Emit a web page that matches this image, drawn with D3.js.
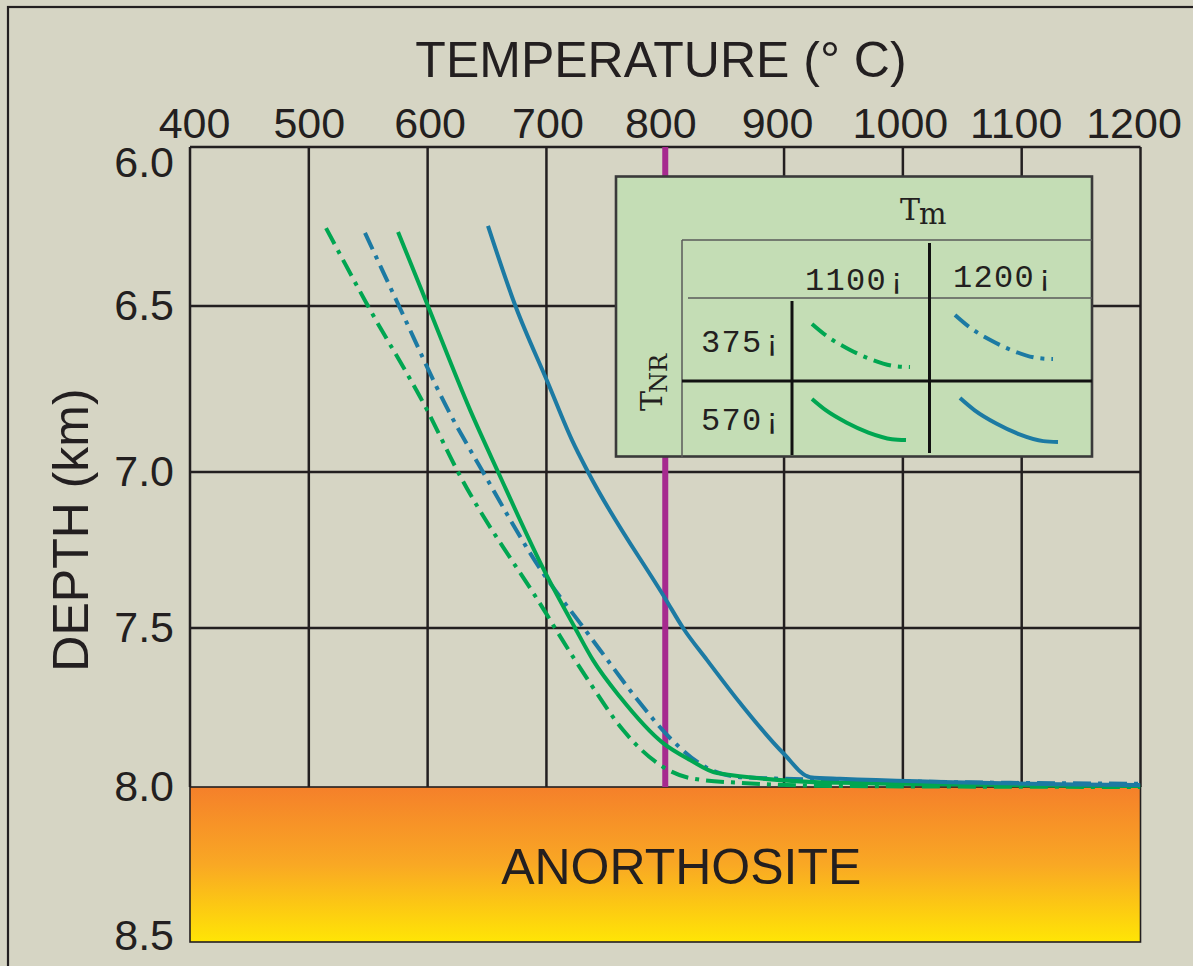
<!DOCTYPE html>
<html><head><meta charset="utf-8">
<script src="https://cdn.jsdelivr.net/npm/d3@7"></script>
<style>html,body{margin:0;padding:0;background:#D6D5C4;} svg{display:block}</style>
</head><body>
<svg id="chart" width="1193" height="966"></svg>
<script>
// ---- data ----
const tempTicks = [400, 500, 600, 700, 800, 900, 1000, 1100, 1200];
const depthTicks = [6.0, 6.5, 7.0, 7.5, 8.0, 8.5];
const markerTemp = 800;
// [temperature °C, depth km]
const tm1200_tnr570 = [[650.8,6.248],[673.6,6.497],[701.3,6.732],[721.5,6.904],[735,7.0],[800.7,7.41],[815,7.5],[835.2,7.601],[863,7.736],[899.2,7.893],[921.9,7.969],[947,7.974],[1199.7,7.994]];
const tm1200_tnr375 = [[547.3,6.27],[575.9,6.5],[617.2,6.813],[646.6,7.0],[697.1,7.324],[730.8,7.497],[745.1,7.569],[778.8,7.736],[804,7.846],[835.2,7.94],[863,7.969],[947.1,7.978],[1199.7,7.99]];
const tm1100_tnr570 = [[575.1,6.267],[600.3,6.5],[635.7,6.813],[659.3,7.0],[698.8,7.321],[724.1,7.5],[739.2,7.601],[762,7.717],[798.2,7.862],[820.9,7.915],[843.6,7.956],[947.1,7.987],[1199.7,7.997]];
const tm1100_tnr375 = [[514.5,6.255],[549.8,6.5],[599.5,6.813],[625.6,7.0],[700.5,7.458],[707.2,7.5],[722.4,7.591],[736.7,7.673],[764.5,7.821],[798.2,7.937],[820.9,7.972],[863,7.987],[947.1,7.997],[1199.7,8.0]];
const legendShape = [[0,0],[0.15,0.28],[0.37,0.58],[0.6,0.82],[0.85,0.98],[1,1]];
const tmLabels = ["1100¡", "1200¡"];
const tnrLabels = ["375¡", "570¡"];

// ---- styles / layout ----
const GREEN = "#00A651", BLUE = "#1C7AA3", DARK = "#231F20";
const DASHDOT = "18 7 4 7";
const tickLabelShift = [4, 0, 2, 1, -5, -7, -3, -6, -7];
const seriesList = [
  {data: tm1100_tnr375, color: GREEN, dash: DASHDOT, box: [812, 324, 910, 367]},
  {data: tm1200_tnr375, color: BLUE,  dash: DASHDOT, box: [955, 315, 1053, 359]},
  {data: tm1100_tnr570, color: GREEN, dash: null,    box: [812, 399, 906, 440]},
  {data: tm1200_tnr570, color: BLUE,  dash: null,    box: [960, 398, 1058, 442]}
];

const svg = d3.select("#chart");
const sans = "'Liberation Sans', Arial, Helvetica, sans-serif";

// outer frame
svg.append("rect").attr("x", 8).attr("y", 7).attr("width", 1220).attr("height", 1000)
  .attr("fill", "#D6D5C4").attr("stroke", DARK).attr("stroke-width", 2.2);

const x = d3.scaleLinear().domain([400, 1200]).range([190, 1140.5]);
const y = d3.scaleLinear().domain(depthTicks).range([147, 306, 472, 628, 787, 942]);

// gradient
const defs = svg.append("defs");
const grad = defs.append("linearGradient").attr("id", "anor").attr("x1", 0).attr("y1", 0).attr("x2", 0).attr("y2", 1);
grad.append("stop").attr("offset", "0%").attr("stop-color", "#F5802A");
grad.append("stop").attr("offset", "50%").attr("stop-color", "#F9A824");
grad.append("stop").attr("offset", "100%").attr("stop-color", "#FFE505");

// grid
const grid = svg.append("g");
grid.selectAll("line.v").data(tempTicks).join("line").attr("class", "v")
  .attr("x1", d => x(d)).attr("x2", d => x(d)).attr("y1", y(6)).attr("y2", y(8))
  .attr("stroke", DARK).attr("stroke-width", 2.5);
grid.selectAll("line.h").data(depthTicks.filter(d => d < 8)).join("line").attr("class", "h")
  .attr("x1", x(400)).attr("x2", x(1200)).attr("y1", d => y(d)).attr("y2", d => y(d))
  .attr("stroke", DARK).attr("stroke-width", 2.5);

// anorthosite block
svg.append("rect").attr("x", x(400)).attr("y", y(8)).attr("width", x(1200) - x(400)).attr("height", y(8.5) - y(8))
  .attr("fill", "url(#anor)").attr("stroke", DARK).attr("stroke-width", 1.6);
svg.append("text").attr("x", (x(400) + x(1200)) / 2 + 16).attr("y", 884).attr("text-anchor", "middle")
  .attr("font-family", sans).attr("font-size", 50).attr("fill", DARK).text("ANORTHOSITE");

// marker line
svg.append("line").attr("x1", x(markerTemp)).attr("x2", x(markerTemp)).attr("y1", y(6)).attr("y2", y(8))
  .attr("stroke", "#A62A8F").attr("stroke-width", 6);

// curves
const curveLine = d3.line().x(d => x(d[0])).y(d => y(d[1])).curve(d3.curveMonotoneX);
seriesList.forEach(s => {
  svg.append("path").attr("d", curveLine(s.data)).attr("fill", "none")
    .attr("stroke", s.color).attr("stroke-width", 4)
    .attr("stroke-dasharray", s.dash);
});

// axes
const topAxis = svg.append("g").attr("transform", `translate(0,${y(6)})`)
  .call(d3.axisTop(x).tickValues(tempTicks).tickSize(0).tickPadding(9).tickFormat(d3.format("d")));
topAxis.select(".domain").remove();
topAxis.selectAll("text").attr("font-family", sans).attr("font-size", 43).attr("fill", DARK)
  .attr("dx", (d, i) => tickLabelShift[i]);

const leftAxis = svg.append("g").attr("transform", `translate(${x(400)},0)`)
  .call(d3.axisLeft(y).tickValues(depthTicks).tickSize(0).tickPadding(16).tickFormat(d3.format(".1f")));
leftAxis.select(".domain").remove();
leftAxis.selectAll("text").attr("font-family", sans).attr("font-size", 43).attr("fill", DARK)
  .attr("dy", d => d === 6 ? "0.68em" : d === 8.5 ? "0.18em" : "0.32em");

// titles
svg.append("text").attr("x", 661).attr("y", 77).attr("text-anchor", "middle")
  .attr("font-family", sans).attr("font-size", 50).attr("fill", DARK).text("TEMPERATURE (° C)");
svg.append("text").attr("transform", "translate(88,530) rotate(-90)").attr("text-anchor", "middle")
  .attr("font-family", sans).attr("font-size", 50).attr("fill", DARK).text("DEPTH (km)");

// legend
const lg = svg.append("g");
lg.append("rect").attr("x", 616).attr("y", 176.5).attr("width", 476).attr("height", 280)
  .attr("fill", "#C4DDB5").attr("stroke", "#3A3A3A").attr("stroke-width", 2.6);
["M682,240H1092", "M682,240V457", "M688,298H1092"].forEach(p =>
  lg.append("path").attr("d", p).attr("stroke", "#5A5A5A").attr("stroke-width", 1.5).attr("fill", "none"));
["M682,381H1092", "M929.5,243V453", "M792,301V455"].forEach(p =>
  lg.append("path").attr("d", p).attr("stroke", "#111").attr("stroke-width", 3).attr("fill", "none"));

const mono = "'Liberation Mono', 'Courier New', monospace";
const serif = "'DejaVu Serif', 'Liberation Serif', serif";
const tm = lg.append("text").attr("x", 900).attr("y", 220).attr("font-family", serif).attr("fill", DARK);
tm.append("tspan").attr("font-size", 30).text("T");
tm.append("tspan").attr("font-size", 29).attr("dy", 4).attr("dx", -1).text("m");
const tnr = lg.append("text").attr("transform", "translate(662,411) rotate(-90)").attr("font-family", serif).attr("fill", DARK);
tnr.append("tspan").attr("font-size", 30).text("T");
tnr.append("tspan").attr("font-size", 24).attr("dy", 5).attr("dx", -2).text("NR");

lg.selectAll("text.tm").data(tmLabels).join("text").attr("class", "tm")
  .attr("x", (d, i) => [805, 953][i]).attr("y", (d, i) => [290, 287][i])
  .attr("font-family", mono).attr("font-size", 32).attr("letter-spacing", 1.3).attr("fill", DARK).text(d => d);
lg.selectAll("text.tnr").data(tnrLabels).join("text").attr("class", "tnr")
  .attr("x", 701).attr("y", (d, i) => [352, 430][i])
  .attr("font-family", mono).attr("font-size", 32).attr("letter-spacing", 1.3).attr("fill", DARK).text(d => d);

seriesList.forEach(s => {
  const lx = d3.scaleLinear().domain([0, 1]).range([s.box[0], s.box[2]]);
  const ly = d3.scaleLinear().domain([0, 1]).range([s.box[1], s.box[3]]);
  const ll = d3.line().x(d => lx(d[0])).y(d => ly(d[1])).curve(d3.curveMonotoneX);
  lg.append("path").attr("d", ll(legendShape)).attr("fill", "none")
    .attr("stroke", s.color).attr("stroke-width", 4).attr("stroke-dasharray", s.dash);
});
</script>
</body></html>
